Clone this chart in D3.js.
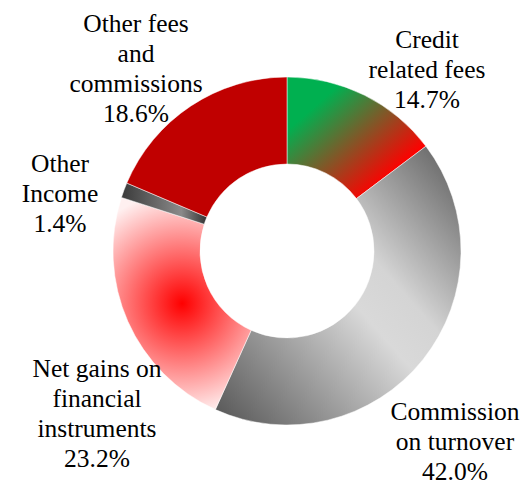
<!DOCTYPE html>
<html>
<head>
<meta charset="utf-8">
<script src="https://cdn.jsdelivr.net/npm/d3@7"></script>
</head>
<body style="margin:0">
<svg width="528" height="484" id="chart"></svg>
<script>
(function () {

  // ---------------------------------------------------------
  // DATA
  // ---------------------------------------------------------
  const categories = [
    "Credit related fees",
    "Commission on turnover",
    "Net gains on financial instruments",
    "Other Income",
    "Other fees and commissions"
  ];
  const values = [14.7, 42.0, 23.2, 1.4, 18.6];
  const labelLines = [
    ["Credit", "related fees"],
    ["Commission", "on turnover"],
    ["Net gains on", "financial", "instruments"],
    ["Other", "Income"],
    ["Other fees", "and", "commissions"]
  ];

  // ---------------------------------------------------------
  // LAYOUT
  // ---------------------------------------------------------
  const cx = 287, cy = 251;
  const outerR = 174, innerR = 87;
  const lineH = 30;

  // label anchor (centre x, first baseline) per slice
  const labelAnchor = [
    [427, 48],
    [455, 420],
    [97, 377],
    [60, 172],
    [136, 32]
  ];

  const svg = d3.select("#chart");
  const defs = svg.append("defs");

  // credit: green -> red diagonal
  const gCredit = defs.append("linearGradient")
      .attr("id", "g0")
      .attr("x1", 0).attr("y1", 0).attr("x2", 1).attr("y2", 1);
  gCredit.append("stop").attr("offset", 0.22).attr("stop-color", "#00b050");
  gCredit.append("stop").attr("offset", 0.78).attr("stop-color", "#ff0000");

  // commission: dark - light - dark
  const gComm = defs.append("linearGradient")
      .attr("id", "g1")
      .attr("x1", 0).attr("y1", 1).attr("x2", 1).attr("y2", 0);
  gComm.append("stop").attr("offset", 0.02).attr("stop-color", "#595959");
  gComm.append("stop").attr("offset", 0.5).attr("stop-color", "#d9d9d9");
  gComm.append("stop").attr("offset", 0.62).attr("stop-color", "#d4d4d4");
  gComm.append("stop").attr("offset", 1).attr("stop-color", "#595959");

  // net gains: radial red
  const gNet = defs.append("radialGradient")
      .attr("id", "g2")
      .attr("gradientUnits", "userSpaceOnUse");
  gNet.append("stop").attr("offset", 0).attr("stop-color", "#ff0000");
  gNet.append("stop").attr("offset", 1).attr("stop-color", "#fff0f0");

  // other income: dark - grey - dark
  const gOther = defs.append("linearGradient")
      .attr("id", "g3")
      .attr("x1", 0).attr("y1", 0).attr("x2", 1).attr("y2", 0);
  gOther.append("stop").attr("offset", 0).attr("stop-color", "#3a3a3a");
  gOther.append("stop").attr("offset", 0.7).attr("stop-color", "#8a8a8a");
  gOther.append("stop").attr("offset", 1).attr("stop-color", "#333333");

  const fills = ["url(#g0)", "url(#g1)", "url(#g2)", "url(#g3)", "#c00000"];

  // ---------------------------------------------------------
  // DONUT
  // ---------------------------------------------------------
  const pie = d3.pie().sort(null).value(d => d);
  const arc = d3.arc().innerRadius(innerR).outerRadius(outerR);

  const g = svg.append("g").attr("transform", `translate(${cx},${cy})`);

  const slices = g.selectAll("path")
    .data(pie(values))
    .enter().append("path")
      .attr("d", arc)
      .attr("fill", (d, i) => fills[i])
      .attr("stroke", "#ffffff")
      .attr("stroke-width", 0.5);

  // radial gradient centred on the slice box (local coords of g)
  const netBox = slices.nodes()[2].getBBox();
  gNet.attr("cx", netBox.x + netBox.width / 2)
      .attr("cy", netBox.y + netBox.height / 2)
      .attr("r", 112);

  // ---------------------------------------------------------
  // LABELS (one text per line)
  // ---------------------------------------------------------
  categories.forEach((name, i) => {
    const lines = labelLines[i].concat([values[i].toFixed(1) + "%"]);
    lines.forEach((ln, j) => {
      svg.append("text")
        .attr("font-family", "Liberation Serif")
        .attr("font-size", 25.5)
        .attr("fill", "#000")
        .attr("text-anchor", "middle")
        .attr("x", labelAnchor[i][0])
        .attr("y", labelAnchor[i][1] + j * lineH)
        .text(ln);
    });
  });

})();
</script>
</body>
</html>
